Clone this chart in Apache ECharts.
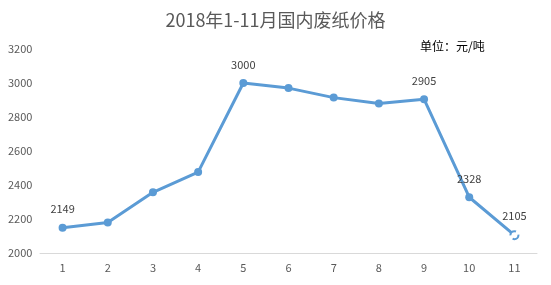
<!DOCTYPE html>
<html><head><meta charset="utf-8">
<script src="https://cdn.jsdelivr.net/npm/echarts@6/dist/echarts.min.js"></script>
<style>html,body{margin:0;padding:0;background:#fff}#c{width:551px;height:285px}</style>
</head><body><div id="c"></div>
<script>
const titleText = '2018年1-11月国内废纸价格';
const unitText = '单位：元/吨';
const categories = ['1','2','3','4','5','6','7','8','9','10','11'];
const prices = [2149, 2180, 2357, 2476, 3000, 2970, 2914, 2880, 2905, 2328, 2105];
const labelledIdx = [0, 4, 8, 9, 10];
const yMin = 2000, yMax = 3200, yStep = 200;

const chart = echarts.init(document.getElementById('c'));
const lineColor = '#5B9BD5';
const seriesData = prices.map((v, i) => {
  const d = { value: v, label: { show: labelledIdx.includes(i) } };
  if (i === prices.length - 1) {
    d.itemStyle = { color: '#ffffff', borderColor: lineColor, borderWidth: 2, borderType: 'dashed' };
  }
  return d;
});
chart.setOption({
  animation: false,
  title: [
    { text: titleText, left: 'center', top: 6, textStyle: { fontFamily: 'Noto Sans CJK SC', fontSize: 18, fontWeight: 'normal', color: '#595959' } },
    { text: unitText, left: 415, top: 35, textStyle: { fontFamily: 'Noto Sans CJK SC', fontSize: 12, fontWeight: 'normal', color: '#000' } }
  ],
  grid: { left: 40, right: 14, top: 49, bottom: 32 },
  xAxis: {
    type: 'category', data: categories, boundaryGap: true,
    axisLine: { show: true, lineStyle: { color: '#d9d9d9', width: 1 } },
    axisTick: { show: false },
    axisLabel: { color: '#595959', fontSize: 11, fontFamily: 'Noto Sans CJK SC', margin: 9 }
  },
  yAxis: {
    type: 'value', min: yMin, max: yMax, interval: yStep,
    splitLine: { show: false }, axisLine: { show: false }, axisTick: { show: false },
    axisLabel: { color: '#595959', fontSize: 11, fontFamily: 'Noto Sans CJK SC', align: 'left', margin: 32, formatter: v => String(v) }
  },
  series: [{
    type: 'line', data: seriesData,
    symbol: 'circle', symbolSize: 8,
    lineStyle: { color: lineColor, width: 3 },
    itemStyle: { color: lineColor },
    label: { position: 'top', distance: 9, color: '#404040', fontSize: 11, fontFamily: 'Noto Sans CJK SC' }
  }]
});
</script></body></html>
